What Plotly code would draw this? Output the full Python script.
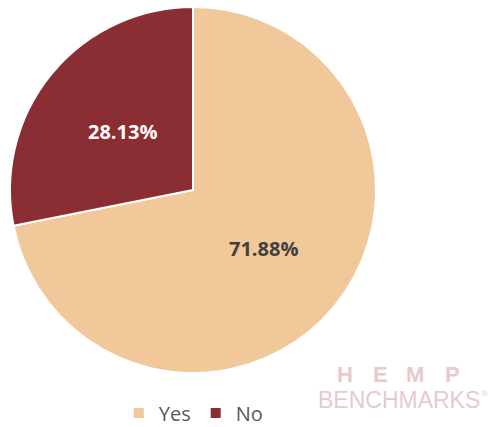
import math
import plotly.graph_objects as go

labels = ["Yes", "No"]
values = [71.88, 28.13]
colors = ["#F0C89A", "#8B2E33"]
text_colors = ["#404040", "#FFFFFF"]

W, H = 488, 427
dom_x = [0.0205, 0.7705]
dom_y = [0.1265, 0.9836]

fig = go.Figure(
    go.Pie(
        labels=labels,
        values=values,
        textinfo="none",
        marker=dict(colors=colors, line=dict(color="#FFFFFF", width=2)),
        sort=False,
        direction="clockwise",
        rotation=0,
        domain=dict(x=dom_x, y=dom_y),
        hoverinfo="label+percent",
    )
)

# Percentage labels placed at half the radius along each slice's mid angle
cx = (dom_x[0] + dom_x[1]) / 2 * W
cy = (dom_y[0] + dom_y[1]) / 2 * H
radius = min((dom_x[1] - dom_x[0]) * W, (dom_y[1] - dom_y[0]) * H) / 2
total = sum(values)
start = 0.0
for v, tc in zip(values, text_colors):
    mid = (start + v / 2) / total * 2 * math.pi
    start += v
    px = cx + 0.5 * radius * math.sin(mid)
    py = cy + 0.5 * radius * math.cos(mid)
    fig.add_annotation(
        text=f"<b>{v:.2f}%</b>", x=px / W, y=py / H, xref="paper", yref="paper",
        xanchor="center", yanchor="middle", showarrow=False,
        font=dict(family="Open Sans", size=20, color=tc),
    )

# Watermark
wm_color = "#E6CACC"
for letter, lx in zip(["H", "E", "M", "P"], [344.5, 380, 415, 452]):
    fig.add_annotation(
        text=letter, x=lx / W, y=1 - 374.5 / H, xref="paper", yref="paper",
        xanchor="center", yanchor="middle", showarrow=False,
        font=dict(family="Liberation Sans", size=22, color=wm_color, weight="bold"),
    )
fig.add_annotation(
    text="BENCHMARKS", x=399 / W, y=1 - 400 / H, xref="paper", yref="paper",
    xanchor="center", yanchor="middle", showarrow=False,
    font=dict(family="Liberation Sans", size=23, color=wm_color),
)
fig.add_annotation(
    text="®", x=485 / W, y=1 - 393 / H, xref="paper", yref="paper",
    xanchor="center", yanchor="middle", showarrow=False,
    font=dict(family="Liberation Sans", size=7, color=wm_color),
)

fig.update_layout(
    width=W,
    height=H,
    margin=dict(l=0, r=0, t=0, b=0, autoexpand=False),
    paper_bgcolor="#FFFFFF",
    plot_bgcolor="#FFFFFF",
    showlegend=True,
    legend=dict(
        orientation="h",
        x=0.397, y=1 - 413 / H, xanchor="center", yanchor="middle",
        font=dict(family="Open Sans", size=20, color="#595959"),
        itemwidth=30,
    ),
)

fig.write_html("out.html")
